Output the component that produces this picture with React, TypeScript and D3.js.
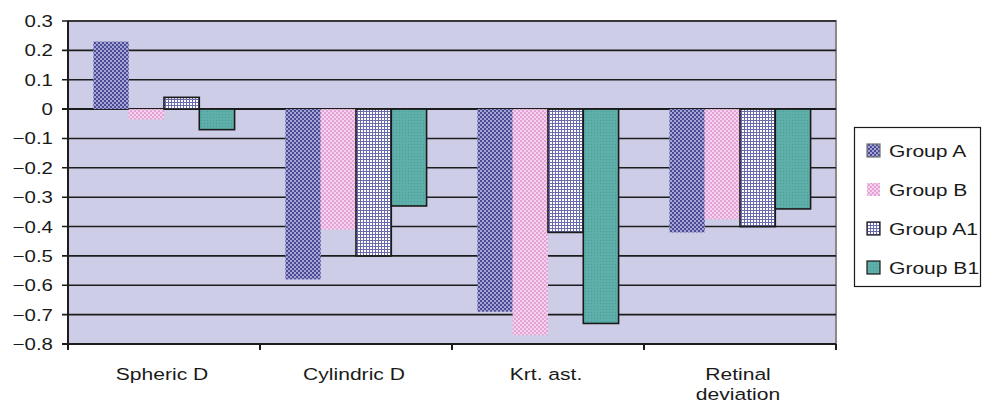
import * as d3 from "d3";

const categories = ["Spheric D", "Cylindric D", "Krt. ast.", "Retinal deviation"];
const series = ["Group A", "Group B", "Group A1", "Group B1"];
const groupA = [0.23, -0.58, -0.69, -0.42];
const groupB = [-0.035, -0.41, -0.77, -0.375];
const groupA1 = [0.04, -0.5, -0.42, -0.4];
const groupB1 = [-0.07, -0.33, -0.73, -0.34];
const yTicks = [0.3, 0.2, 0.1, 0, -0.1, -0.2, -0.3, -0.4, -0.5, -0.6, -0.7, -0.8];

const values = [groupA, groupB, groupA1, groupB1];
const fills = ["url(#patA)", "url(#patB)", "url(#patA1)", "url(#patB1)"];
const outlined = [false, false, true, true];

// the source picture is stretched sideways, so its text is too
const SX = 1.24;

export default function App() {
  const width = 982;
  const height = 404;
  const plot = { left: 68, right: 836, top: 21, bottom: 344 };

  const y = d3.scaleLinear().domain([-0.8, 0.3]).range([plot.bottom, plot.top]);
  const x0 = d3.scaleBand<string>().domain(categories).range([plot.left, plot.right]).padding(0);
  const x1 = d3
    .scaleBand<string>()
    .domain(series)
    .range([0, x0.bandwidth()])
    .paddingInner(0)
    .paddingOuter(0.72);

  const fmt = (v: number) => (v < 0 ? "\u2212" + Math.abs(v) : String(v));
  const at = (tx: number, ty: number) => `translate(${tx},${ty}) scale(${SX},1)`;

  return (
    <svg
      width={width}
      height={height}
      style={{ position: "absolute", left: 0, top: 0, fontFamily: "'Liberation Sans', Arial, sans-serif" }}
    >
      <defs>
        <pattern id="patA" width="4" height="4" patternUnits="userSpaceOnUse">
          <rect width="4" height="4" fill="#a4a4d4" />
          <rect width="2" height="2" fill="#4c4c96" />
          <rect x="2" y="2" width="2" height="2" fill="#4c4c96" />
        </pattern>
        <pattern id="patB" width="4" height="4" patternUnits="userSpaceOnUse">
          <rect width="4" height="4" fill="#f6d2ee" />
          <rect width="2" height="2" fill="#e2a4d6" />
          <rect x="2" y="2" width="2" height="2" fill="#e2a4d6" />
        </pattern>
        <pattern id="patA1" width="3" height="3" patternUnits="userSpaceOnUse">
          <rect width="3" height="3" fill="#ffffff" />
          <rect width="1" height="3" fill="#6a6aae" />
          <rect width="3" height="1" fill="#6a6aae" />
        </pattern>
        <pattern id="patB1" width="3" height="3" patternUnits="userSpaceOnUse">
          <rect width="3" height="3" fill="#5eaeaa" />
          <rect width="1" height="1" fill="#4c9c9a" />
        </pattern>
      </defs>

      {/* plot background */}
      <rect
        x={plot.left}
        y={plot.top}
        width={plot.right - plot.left}
        height={plot.bottom - plot.top}
        fill="#cecde8"
        stroke="#8a8a8a"
        strokeWidth={2}
      />

      {/* gridlines */}
      {yTicks.map((t) => (
        <line
          key={t}
          x1={plot.left - 6}
          x2={plot.right}
          y1={y(t)}
          y2={y(t)}
          stroke="#1c1c1c"
          strokeWidth={t === 0 ? 2 : 1.6}
        />
      ))}

      {/* bars */}
      {categories.map((c, ci) =>
        series.map((s, si) => {
          const v = values[si][ci];
          const bx = (x0(c) ?? 0) + (x1(s) ?? 0);
          return (
            <rect
              key={c + s}
              x={bx}
              y={y(Math.max(0, v))}
              width={x1.bandwidth()}
              height={Math.abs(y(v) - y(0))}
              fill={fills[si]}
              stroke={outlined[si] ? "#1a1a1a" : "none"}
              strokeWidth={1.6}
            />
          );
        })
      )}

      {/* axes */}
      <line x1={plot.left} x2={plot.left} y1={plot.top} y2={plot.bottom + 1} stroke="#1c1c1c" strokeWidth={2} />
      <line x1={plot.left - 6} x2={plot.right} y1={plot.bottom} y2={plot.bottom} stroke="#1c1c1c" strokeWidth={2} />
      {yTicks.map((t) => (
        <text key={t} transform={at(53, y(t) + 6)} textAnchor="end" fontSize={16.5} fill="#1a1a1a">
          {fmt(t)}
        </text>
      ))}

      {[...categories.map((c) => x0(c) ?? 0), plot.right].map((xv, i) => (
        <line key={i} x1={xv} x2={xv} y1={plot.bottom} y2={plot.bottom + 6} stroke="#1c1c1c" strokeWidth={2} />
      ))}
      {categories.map((c) => {
        const cx = (x0(c) ?? 0) + x0.bandwidth() / 2;
        const words = c === "Retinal deviation" ? ["Retinal", "deviation"] : [c];
        return words.map((w, i) => (
          <text key={c + w} transform={at(cx - 2, 380 + i * 20)} textAnchor="middle" fontSize={17} fill="#1a1a1a">
            {w}
          </text>
        ));
      })}

      {/* legend */}
      <rect x={854.5} y={127.5} width={126} height={159} fill="#ffffff" stroke="#1a1a1a" strokeWidth={1.2} />
      {series.map((s, i) => {
        const base = 157 + i * 39;
        return (
          <g key={s}>
            <rect
              x={867}
              y={base - 13}
              width={13}
              height={13}
              fill={fills[i]}
              stroke={i === 1 ? "none" : i === 0 ? "#707070" : "#1a1a1a"}
              strokeWidth={1.2}
            />
            <text transform={at(889, base)} fontSize={17} fill="#1a1a1a">
              {s}
            </text>
          </g>
        );
      })}
    </svg>
  );
}
